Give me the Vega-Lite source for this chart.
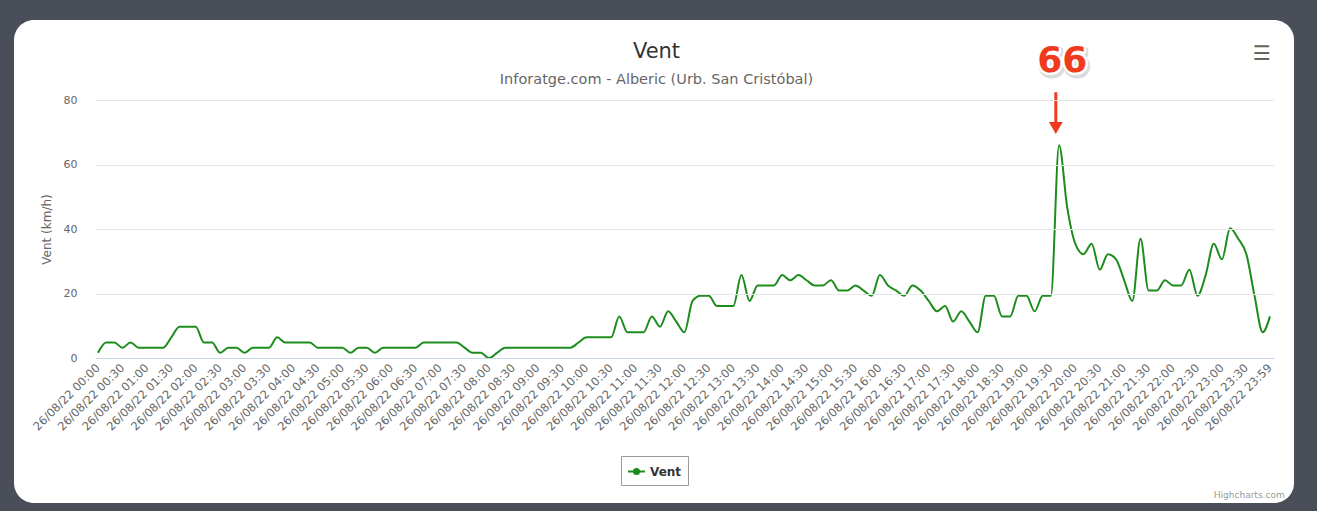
{
  "$schema": "https://vega.github.io/schema/vega-lite/v6.json",
  "width": 1179,
  "height": 258,
  "autosize": {"type": "none"},
  "padding": {"left": 95, "top": 100, "right": 43, "bottom": 153},
  "background": "#4a4e58",
  "config": {
    "font": "DejaVu Sans",
    "view": {"stroke": null},
    "axisX": {"labelOverlap": false, "labelFlush": false, "labelBound": false, "labelAngle": -45, "labelAlign": "right", "labelBaseline": "middle", "tickCount": 100}
  },
  "title": {
    "text": "Vent",
    "subtitle": "Inforatge.com - Alberic (Urb. San Cristóbal)",
    "anchor": "middle",
    "dx": -28,
    "offset": -66,
    "fontSize": 21,
    "fontWeight": "normal",
    "color": "#333333",
    "subtitleFontSize": 14.5,
    "subtitleColor": "#666666",
    "subtitlePadding": 11
  },
  "layer": [
    {
      "data": {"values": [{}]},
      "mark": {"type": "rect", "fill": "white", "cornerRadius": 20},
      "encoding": {
        "x": {"datum": {"year": 2022, "month": 8, "date": 25, "hours": 22, "minutes": 16, "seconds": 54, "utc": true}, "type": "temporal"},
        "x2": {"datum": {"year": 2022, "month": 8, "date": 27, "hours": 0, "minutes": 28, "seconds": 30, "utc": true}},
        "y": {"datum": 104.8, "type": "quantitative"},
        "y2": {"datum": -44.96}
      }
    },
    {
      "data": {
        "values": [
          {"t": "2022-08-26 00:00", "v": 1.6}, {"t": "2022-08-26 00:10", "v": 4.8}, {"t": "2022-08-26 00:20", "v": 4.8},
          {"t": "2022-08-26 00:30", "v": 3.2}, {"t": "2022-08-26 00:40", "v": 4.8}, {"t": "2022-08-26 00:50", "v": 3.2},
          {"t": "2022-08-26 01:00", "v": 3.2}, {"t": "2022-08-26 01:10", "v": 3.2}, {"t": "2022-08-26 01:20", "v": 3.2},
          {"t": "2022-08-26 01:30", "v": 6.4}, {"t": "2022-08-26 01:40", "v": 9.7}, {"t": "2022-08-26 01:50", "v": 9.7},
          {"t": "2022-08-26 02:00", "v": 9.7}, {"t": "2022-08-26 02:10", "v": 4.8}, {"t": "2022-08-26 02:20", "v": 4.8},
          {"t": "2022-08-26 02:30", "v": 1.6}, {"t": "2022-08-26 02:40", "v": 3.2}, {"t": "2022-08-26 02:50", "v": 3.2},
          {"t": "2022-08-26 03:00", "v": 1.6}, {"t": "2022-08-26 03:10", "v": 3.2}, {"t": "2022-08-26 03:20", "v": 3.2},
          {"t": "2022-08-26 03:30", "v": 3.2}, {"t": "2022-08-26 03:40", "v": 6.4}, {"t": "2022-08-26 03:50", "v": 4.8},
          {"t": "2022-08-26 04:00", "v": 4.8}, {"t": "2022-08-26 04:10", "v": 4.8}, {"t": "2022-08-26 04:20", "v": 4.8},
          {"t": "2022-08-26 04:30", "v": 3.2}, {"t": "2022-08-26 04:40", "v": 3.2}, {"t": "2022-08-26 04:50", "v": 3.2},
          {"t": "2022-08-26 05:00", "v": 3.2}, {"t": "2022-08-26 05:10", "v": 1.6}, {"t": "2022-08-26 05:20", "v": 3.2},
          {"t": "2022-08-26 05:30", "v": 3.2}, {"t": "2022-08-26 05:40", "v": 1.6}, {"t": "2022-08-26 05:50", "v": 3.2},
          {"t": "2022-08-26 06:00", "v": 3.2}, {"t": "2022-08-26 06:10", "v": 3.2}, {"t": "2022-08-26 06:20", "v": 3.2},
          {"t": "2022-08-26 06:30", "v": 3.2}, {"t": "2022-08-26 06:40", "v": 4.8}, {"t": "2022-08-26 06:50", "v": 4.8},
          {"t": "2022-08-26 07:00", "v": 4.8}, {"t": "2022-08-26 07:10", "v": 4.8}, {"t": "2022-08-26 07:20", "v": 4.8},
          {"t": "2022-08-26 07:30", "v": 3.2}, {"t": "2022-08-26 07:40", "v": 1.6}, {"t": "2022-08-26 07:50", "v": 1.6},
          {"t": "2022-08-26 08:00", "v": 0}, {"t": "2022-08-26 08:10", "v": 1.6}, {"t": "2022-08-26 08:20", "v": 3.2},
          {"t": "2022-08-26 08:30", "v": 3.2}, {"t": "2022-08-26 08:40", "v": 3.2}, {"t": "2022-08-26 08:50", "v": 3.2},
          {"t": "2022-08-26 09:00", "v": 3.2}, {"t": "2022-08-26 09:10", "v": 3.2}, {"t": "2022-08-26 09:20", "v": 3.2},
          {"t": "2022-08-26 09:30", "v": 3.2}, {"t": "2022-08-26 09:40", "v": 3.2}, {"t": "2022-08-26 09:50", "v": 4.8},
          {"t": "2022-08-26 10:00", "v": 6.4}, {"t": "2022-08-26 10:10", "v": 6.4}, {"t": "2022-08-26 10:20", "v": 6.4},
          {"t": "2022-08-26 10:30", "v": 6.4}, {"t": "2022-08-26 10:40", "v": 12.9}, {"t": "2022-08-26 10:50", "v": 8.0},
          {"t": "2022-08-26 11:00", "v": 8.0}, {"t": "2022-08-26 11:10", "v": 8.0}, {"t": "2022-08-26 11:20", "v": 12.9},
          {"t": "2022-08-26 11:30", "v": 9.7}, {"t": "2022-08-26 11:40", "v": 14.5}, {"t": "2022-08-26 11:50", "v": 11.3},
          {"t": "2022-08-26 12:00", "v": 8.0}, {"t": "2022-08-26 12:10", "v": 17.7}, {"t": "2022-08-26 12:20", "v": 19.3},
          {"t": "2022-08-26 12:30", "v": 19.3}, {"t": "2022-08-26 12:40", "v": 16.1}, {"t": "2022-08-26 12:50", "v": 16.1},
          {"t": "2022-08-26 13:00", "v": 16.1}, {"t": "2022-08-26 13:10", "v": 25.7}, {"t": "2022-08-26 13:20", "v": 17.7},
          {"t": "2022-08-26 13:30", "v": 22.5}, {"t": "2022-08-26 13:40", "v": 22.5}, {"t": "2022-08-26 13:50", "v": 22.5},
          {"t": "2022-08-26 14:00", "v": 25.7}, {"t": "2022-08-26 14:10", "v": 24.1}, {"t": "2022-08-26 14:20", "v": 25.7},
          {"t": "2022-08-26 14:30", "v": 24.1}, {"t": "2022-08-26 14:40", "v": 22.5}, {"t": "2022-08-26 14:50", "v": 22.5},
          {"t": "2022-08-26 15:00", "v": 24.1}, {"t": "2022-08-26 15:10", "v": 20.9}, {"t": "2022-08-26 15:20", "v": 20.9},
          {"t": "2022-08-26 15:30", "v": 22.5}, {"t": "2022-08-26 15:40", "v": 20.9}, {"t": "2022-08-26 15:50", "v": 19.3},
          {"t": "2022-08-26 16:00", "v": 25.7}, {"t": "2022-08-26 16:10", "v": 22.5}, {"t": "2022-08-26 16:20", "v": 20.9},
          {"t": "2022-08-26 16:30", "v": 19.3}, {"t": "2022-08-26 16:40", "v": 22.5}, {"t": "2022-08-26 16:50", "v": 20.9},
          {"t": "2022-08-26 17:00", "v": 17.7}, {"t": "2022-08-26 17:10", "v": 14.5}, {"t": "2022-08-26 17:20", "v": 16.1},
          {"t": "2022-08-26 17:30", "v": 11.3}, {"t": "2022-08-26 17:40", "v": 14.5}, {"t": "2022-08-26 17:50", "v": 11.3},
          {"t": "2022-08-26 18:00", "v": 8.0}, {"t": "2022-08-26 18:10", "v": 19.3}, {"t": "2022-08-26 18:20", "v": 19.3},
          {"t": "2022-08-26 18:30", "v": 12.9}, {"t": "2022-08-26 18:40", "v": 12.9}, {"t": "2022-08-26 18:50", "v": 19.3},
          {"t": "2022-08-26 19:00", "v": 19.3}, {"t": "2022-08-26 19:10", "v": 14.5}, {"t": "2022-08-26 19:20", "v": 19.3},
          {"t": "2022-08-26 19:30", "v": 19.3}, {"t": "2022-08-26 19:40", "v": 66}, {"t": "2022-08-26 19:50", "v": 46.7},
          {"t": "2022-08-26 20:00", "v": 35.4}, {"t": "2022-08-26 20:10", "v": 32.2}, {"t": "2022-08-26 20:20", "v": 35.4},
          {"t": "2022-08-26 20:30", "v": 27.4}, {"t": "2022-08-26 20:40", "v": 32.2}, {"t": "2022-08-26 20:50", "v": 30.6},
          {"t": "2022-08-26 21:00", "v": 24.1}, {"t": "2022-08-26 21:10", "v": 17.7}, {"t": "2022-08-26 21:20", "v": 37.0},
          {"t": "2022-08-26 21:30", "v": 20.9}, {"t": "2022-08-26 21:40", "v": 20.9}, {"t": "2022-08-26 21:50", "v": 24.1},
          {"t": "2022-08-26 22:00", "v": 22.5}, {"t": "2022-08-26 22:10", "v": 22.5}, {"t": "2022-08-26 22:20", "v": 27.4},
          {"t": "2022-08-26 22:30", "v": 19.3}, {"t": "2022-08-26 22:40", "v": 25.7}, {"t": "2022-08-26 22:50", "v": 35.4},
          {"t": "2022-08-26 23:00", "v": 30.6}, {"t": "2022-08-26 23:10", "v": 40.2}, {"t": "2022-08-26 23:20", "v": 37.0},
          {"t": "2022-08-26 23:30", "v": 32.2}, {"t": "2022-08-26 23:40", "v": 19.3}, {"t": "2022-08-26 23:50", "v": 8.0},
          {"t": "2022-08-26 23:59", "v": 12.9}
        ],
        "format": {"parse": {"t": "utc:'%Y-%m-%d %H:%M'"}}
      },
      "mark": {"type": "line", "interpolate": "monotone", "strokeWidth": 2},
      "encoding": {
        "x": {
          "field": "t",
          "type": "temporal",
          "scale": {"type": "utc", "domain": [1661471779000, 1661558635000], "nice": false},
          "axis": {
            "values": [1661472000000, 1661473800000, 1661475600000, 1661477400000, 1661479200000, 1661481000000, 1661482800000, 1661484600000, 1661486400000, 1661488200000, 1661490000000, 1661491800000, 1661493600000, 1661495400000, 1661497200000, 1661499000000, 1661500800000, 1661502600000, 1661504400000, 1661506200000, 1661508000000, 1661509800000, 1661511600000, 1661513400000, 1661515200000, 1661517000000, 1661518800000, 1661520600000, 1661522400000, 1661524200000, 1661526000000, 1661527800000, 1661529600000, 1661531400000, 1661533200000, 1661535000000, 1661536800000, 1661538600000, 1661540400000, 1661542200000, 1661544000000, 1661545800000, 1661547600000, 1661549400000, 1661551200000, 1661553000000, 1661554800000, 1661556600000, 1661558340000],
            "tickCount": 100,
            "labelExpr": "utcFormat(datum.value, '%d/%m/%y %H:%M')",
            "labelAngle": -45,
            "labelAlign": "right",
            "labelBaseline": "middle",
            "labelPadding": 8,
            "labelFontSize": 11.5,
            "labelColor": "#666666",
            "labelOverlap": false,
            "labelFlush": false,
            "labelBound": false,
            "ticks": false,
            "domainColor": "#ccd6eb",
            "domainWidth": 1,
            "grid": false,
            "title": null,
            "zindex": 1
          }
        },
        "y": {
          "field": "v",
          "type": "quantitative",
          "scale": {"domain": [0, 80], "nice": false},
          "axis": {
            "values": [0, 20, 40, 60, 80],
            "grid": true,
            "gridColor": "#e6e6e6",
            "domain": false,
            "ticks": false,
            "labelPadding": 18,
            "labelFontSize": 11,
            "labelColor": "#666666",
            "title": "Vent (km/h)",
            "titleFontSize": 12,
            "titleFontWeight": "normal",
            "titleColor": "#666666",
            "titlePadding": 10,
            "zindex": 1
          }
        },
        "color": {
          "datum": "Vent",
          "scale": {"range": ["#1c8c1c"]},
          "legend": {
            "orient": "none",
            "legendX": 526,
            "legendY": 356,
            "title": null,
            "padding": 6,
            "strokeColor": "#999999",
            "fillColor": "white",
            "labelFontSize": 12,
            "labelFontWeight": "bold",
            "labelColor": "#333333",
            "symbolType": "M-1,0L1,0M0.3,0A0.3,0.3,0,1,1,-0.3,0A0.3,0.3,0,1,1,0.3,0Z",
            "symbolSize": 289,
            "symbolStrokeWidth": 2,
            "symbolFillColor": "#1c8c1c",
            "symbolStrokeColor": "#1c8c1c"
          }
        }
      }
    },
    {
      "data": {"values": [{}]},
      "mark": {"type": "rule", "color": "#ef3a1d", "strokeWidth": 3},
      "encoding": {
        "x": {"datum": {"year": 2022, "month": 8, "date": 26, "hours": 19, "minutes": 36, "utc": true}, "type": "temporal"},
        "y": {"datum": 82.4, "type": "quantitative"},
        "y2": {"datum": 73}
      }
    },
    {
      "data": {"values": [{}]},
      "mark": {"type": "point", "shape": "triangle-down", "filled": true, "color": "#ef3a1d", "size": 190, "opacity": 1},
      "encoding": {
        "x": {"datum": {"year": 2022, "month": 8, "date": 26, "hours": 19, "minutes": 36, "utc": true}, "type": "temporal"},
        "y": {"datum": 71.3, "type": "quantitative"}
      }
    },
    {
      "data": {"values": [{}]},
      "mark": {"type": "text", "text": "66", "fontSize": 36, "fontWeight": "bold", "fill": "#b0b0b0", "stroke": "#b0b0b0", "strokeWidth": 6, "strokeJoin": "round", "opacity": 0.45, "dx": 1.5, "dy": 2.5, "align": "center", "baseline": "middle"},
      "encoding": {
        "x": {"datum": {"year": 2022, "month": 8, "date": 26, "hours": 19, "minutes": 44, "utc": true}, "type": "temporal"},
        "y": {"datum": 92, "type": "quantitative"}
      }
    },
    {
      "data": {"values": [{}]},
      "mark": {"type": "text", "text": "66", "fontSize": 36, "fontWeight": "bold", "fill": "white", "stroke": "white", "strokeWidth": 5, "strokeJoin": "round", "align": "center", "baseline": "middle"},
      "encoding": {
        "x": {"datum": {"year": 2022, "month": 8, "date": 26, "hours": 19, "minutes": 44, "utc": true}, "type": "temporal"},
        "y": {"datum": 92, "type": "quantitative"}
      }
    },
    {
      "data": {"values": [{}]},
      "mark": {"type": "text", "text": "66", "fontSize": 36, "fontWeight": "bold", "fill": "#ef3a1d", "align": "center", "baseline": "middle"},
      "encoding": {
        "x": {"datum": {"year": 2022, "month": 8, "date": 26, "hours": 19, "minutes": 44, "utc": true}, "type": "temporal"},
        "y": {"datum": 92, "type": "quantitative"}
      }
    },
    {
      "data": {"values": [{}]},
      "mark": {"type": "text", "text": "☰", "fontSize": 20, "fontWeight": "bold", "fill": "#666666", "align": "center", "baseline": "middle"},
      "encoding": {
        "x": {"datum": {"year": 2022, "month": 8, "date": 26, "hours": 23, "minutes": 49, "utc": true}, "type": "temporal"},
        "y": {"datum": 94.3, "type": "quantitative"}
      }
    },
    {
      "data": {"values": [{}]},
      "mark": {"type": "text", "text": "Highcharts.com", "fontSize": 9, "fill": "#999999", "align": "right", "baseline": "middle"},
      "encoding": {
        "x": {"datum": {"year": 2022, "month": 8, "date": 27, "hours": 0, "minutes": 17, "utc": true}, "type": "temporal"},
        "y": {"datum": -42.5, "type": "quantitative"}
      }
    }
  ]
}
